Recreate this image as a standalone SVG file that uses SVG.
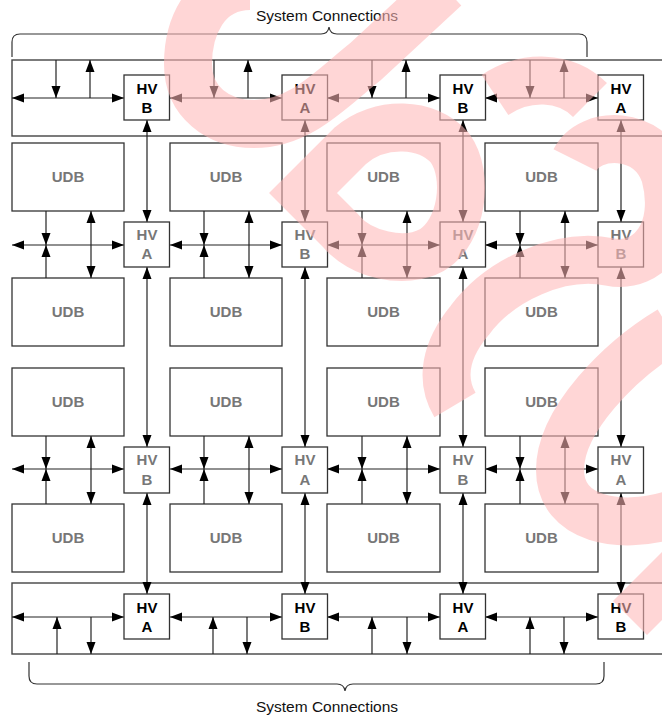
<svg xmlns="http://www.w3.org/2000/svg" width="662" height="715" viewBox="0 0 662 715">
<defs>
<style>
.cont{fill:none;stroke:#444;stroke-width:1.4}
.box{fill:#fff;stroke:#333;stroke-width:1.3}
.t{font-family:"Liberation Sans",Arial,sans-serif;font-weight:bold;font-size:15px;text-anchor:middle}
.k{fill:#000}
.g{fill:#777}
.lbl{font-family:"Liberation Sans",Arial,sans-serif;font-size:15.5px;text-anchor:middle;fill:#111}
.w{stroke:#222;stroke-width:1.2;fill:none}
.d{marker-start:url(#ah);marker-end:url(#ah)}
.e{marker-end:url(#ah)}
.brace{fill:none;stroke:#333;stroke-width:1.2}
.wm{fill:none;stroke:#ffb8b8;stroke-width:48;stroke-linejoin:miter;stroke-linecap:butt}
</style>
<marker id="ah" markerUnits="userSpaceOnUse" markerWidth="12" markerHeight="10" refX="12" refY="4.5" orient="auto-start-reverse" viewBox="0 0 12 9">
<path d="M0,0 L12,4.5 L0,9 z" fill="#000"/>
</marker>
</defs>
<rect width="662" height="715" fill="#fff"/>

<text class="lbl" x="327" y="21">System Connections</text>
<path class="brace" d="M12,57 L12,42 Q12,34 20,34 L321,34 Q328,34 329,27 Q330,34 337,34 L579,34 Q587,34 587,42 L587,57"/>
<text class="lbl" x="327" y="712">System Connections</text>
<path class="brace" d="M29,662 L29,676 Q29,684 37,684 L337,684 Q344,684 345,691 Q346,684 353,684 L596,684 Q604,684 604,676 L604,662"/>

<g id="top-bus"><rect class="cont" x="12" y="60" width="670" height="76"/></g>
<g id="bottom-bus"><rect class="cont" x="12" y="583" width="670" height="71"/></g>

<g id="udb-r1c1"><rect class="box" x="12" y="143" width="112" height="68"/><text class="t g" x="68" y="182">UDB</text></g>
<g id="udb-r1c2"><rect class="box" x="170" y="143" width="112" height="68"/><text class="t g" x="226" y="182">UDB</text></g>
<g id="udb-r1c3"><rect class="box" x="327" y="143" width="113" height="68"/><text class="t g" x="383.5" y="182">UDB</text></g>
<g id="udb-r1c4"><rect class="box" x="485" y="143" width="113" height="68"/><text class="t g" x="541.5" y="182">UDB</text></g>
<g id="udb-r2c1"><rect class="box" x="12" y="278" width="112" height="68"/><text class="t g" x="68" y="317">UDB</text></g>
<g id="udb-r2c2"><rect class="box" x="170" y="278" width="112" height="68"/><text class="t g" x="226" y="317">UDB</text></g>
<g id="udb-r2c3"><rect class="box" x="327" y="278" width="113" height="68"/><text class="t g" x="383.5" y="317">UDB</text></g>
<g id="udb-r2c4"><rect class="box" x="485" y="278" width="113" height="68"/><text class="t g" x="541.5" y="317">UDB</text></g>
<g id="udb-r3c1"><rect class="box" x="12" y="368" width="112" height="68"/><text class="t g" x="68" y="407">UDB</text></g>
<g id="udb-r3c2"><rect class="box" x="170" y="368" width="112" height="68"/><text class="t g" x="226" y="407">UDB</text></g>
<g id="udb-r3c3"><rect class="box" x="327" y="368" width="113" height="68"/><text class="t g" x="383.5" y="407">UDB</text></g>
<g id="udb-r3c4"><rect class="box" x="485" y="368" width="113" height="68"/><text class="t g" x="541.5" y="407">UDB</text></g>
<g id="udb-r4c1"><rect class="box" x="12" y="504" width="112" height="68"/><text class="t g" x="68" y="543">UDB</text></g>
<g id="udb-r4c2"><rect class="box" x="170" y="504" width="112" height="68"/><text class="t g" x="226" y="543">UDB</text></g>
<g id="udb-r4c3"><rect class="box" x="327" y="504" width="113" height="68"/><text class="t g" x="383.5" y="543">UDB</text></g>
<g id="udb-r4c4"><rect class="box" x="485" y="504" width="113" height="68"/><text class="t g" x="541.5" y="543">UDB</text></g>

<g id="connectors">
<path class="w d" d="M12,98 H124"/><path class="w d" d="M170,98 H282"/><path class="w d" d="M327,98 H440"/><path class="w d" d="M485,98 H598"/>
<path class="w e" d="M56,60 V98"/><path class="w e" d="M214,60 V98"/><path class="w e" d="M372,60 V98"/><path class="w e" d="M530,60 V98"/>
<path class="w e" d="M90,98 V60"/><path class="w e" d="M248,98 V60"/><path class="w e" d="M406,98 V60"/><path class="w e" d="M564,98 V60"/>

<path class="w d" d="M12,245 H124"/><path class="w d" d="M170,245 H282"/><path class="w d" d="M327,245 H440"/><path class="w d" d="M485,245 H598"/>
<path class="w e" d="M46,211 V245"/><path class="w e" d="M204,211 V245"/><path class="w e" d="M362,211 V245"/><path class="w e" d="M520,211 V245"/>
<path class="w e" d="M46,278 V245"/><path class="w e" d="M204,278 V245"/><path class="w e" d="M362,278 V245"/><path class="w e" d="M520,278 V245"/>
<path class="w d" d="M91,211 V278"/><path class="w d" d="M249,211 V278"/><path class="w d" d="M407,211 V278"/><path class="w d" d="M565,211 V278"/>

<path class="w d" d="M12,469 H124"/><path class="w d" d="M170,469 H282"/><path class="w d" d="M327,469 H440"/><path class="w d" d="M485,469 H598"/>
<path class="w e" d="M46,436 V469"/><path class="w e" d="M204,436 V469"/><path class="w e" d="M362,436 V469"/><path class="w e" d="M520,436 V469"/>
<path class="w e" d="M46,504 V469"/><path class="w e" d="M204,504 V469"/><path class="w e" d="M362,504 V469"/><path class="w e" d="M520,504 V469"/>
<path class="w d" d="M91,436 V504"/><path class="w d" d="M249,436 V504"/><path class="w d" d="M407,436 V504"/><path class="w d" d="M565,436 V504"/>

<path class="w d" d="M12,617 H124"/><path class="w d" d="M170,617 H282"/><path class="w d" d="M327,617 H440"/><path class="w d" d="M485,617 H598"/>
<path class="w e" d="M57,654 V617"/><path class="w e" d="M213,654 V617"/><path class="w e" d="M372,654 V617"/><path class="w e" d="M530,654 V617"/>
<path class="w e" d="M91,617 V654"/><path class="w e" d="M247,617 V654"/><path class="w e" d="M407,617 V654"/><path class="w e" d="M564,617 V654"/>

<path class="w d" d="M147,120 V222"/><path class="w d" d="M305,120 V222"/><path class="w d" d="M463,120 V222"/><path class="w d" d="M621,120 V222"/>
<path class="w d" d="M147,267 V447"/><path class="w d" d="M305,267 V447"/><path class="w d" d="M463,267 V447"/><path class="w d" d="M621,267 V447"/>
<path class="w d" d="M147,493 V594"/><path class="w d" d="M305,493 V594"/><path class="w d" d="M463,493 V594"/><path class="w d" d="M621,493 V594"/>
</g>

<g id="hv-r1c1"><rect class="box" x="124" y="75" width="45.5" height="45"/><text class="t k" x="147" y="94">HV</text><text class="t k" x="147" y="113">B</text></g>
<g id="hv-r1c2"><rect class="box" x="282" y="75" width="45.5" height="45"/><text class="t k" x="305" y="94">HV</text><text class="t k" x="305" y="113">A</text></g>
<g id="hv-r1c3"><rect class="box" x="440" y="75" width="45.5" height="45"/><text class="t k" x="463" y="94">HV</text><text class="t k" x="463" y="113">B</text></g>
<g id="hv-r1c4"><rect class="box" x="598" y="75" width="45.5" height="45"/><text class="t k" x="621" y="94">HV</text><text class="t k" x="621" y="113">A</text></g>
<g id="hv-r2c1"><rect class="box" x="124" y="222" width="45.5" height="45"/><text class="t g" x="147" y="240">HV</text><text class="t g" x="147" y="259">A</text></g>
<g id="hv-r2c2"><rect class="box" x="282" y="222" width="45.5" height="45"/><text class="t g" x="305" y="240">HV</text><text class="t g" x="305" y="259">B</text></g>
<g id="hv-r2c3"><rect class="box" x="440" y="222" width="45.5" height="45"/><text class="t g" x="463" y="240">HV</text><text class="t g" x="463" y="259">A</text></g>
<g id="hv-r2c4"><rect class="box" x="598" y="222" width="45.5" height="45"/><text class="t g" x="621" y="240">HV</text><text class="t g" x="621" y="259">B</text></g>
<g id="hv-r3c1"><rect class="box" x="124" y="447" width="45.5" height="46"/><text class="t g" x="147" y="465">HV</text><text class="t g" x="147" y="485">B</text></g>
<g id="hv-r3c2"><rect class="box" x="282" y="447" width="45.5" height="46"/><text class="t g" x="305" y="465">HV</text><text class="t g" x="305" y="485">A</text></g>
<g id="hv-r3c3"><rect class="box" x="440" y="447" width="45.5" height="46"/><text class="t g" x="463" y="465">HV</text><text class="t g" x="463" y="485">B</text></g>
<g id="hv-r3c4"><rect class="box" x="598" y="447" width="45.5" height="46"/><text class="t g" x="621" y="465">HV</text><text class="t g" x="621" y="485">A</text></g>
<g id="hv-r4c1"><rect class="box" x="124" y="594" width="45.5" height="45"/><text class="t k" x="147" y="613">HV</text><text class="t k" x="147" y="632">A</text></g>
<g id="hv-r4c2"><rect class="box" x="282" y="594" width="45.5" height="45"/><text class="t k" x="305" y="613">HV</text><text class="t k" x="305" y="632">B</text></g>
<g id="hv-r4c3"><rect class="box" x="440" y="594" width="45.5" height="45"/><text class="t k" x="463" y="613">HV</text><text class="t k" x="463" y="632">A</text></g>
<g id="hv-r4c4"><rect class="box" x="598" y="594" width="45.5" height="45"/><text class="t k" x="621" y="613">HV</text><text class="t k" x="621" y="632">B</text></g>

<g id="watermark" opacity="0.57">
<path class="wm" d="M250,-14 C205,-14 188,28 188,64 C188,102 218,124 254,124 C300,124 330,90 365,62 L445,-12"/>
<path class="wm" d="M303,193 L350,146 C380,120 428,122 450,148 C470,176 462,232 432,250 C405,265 360,255 340,230 Z"/>
<path class="wm" d="M495,95 C525,75 565,75 590,100 M575,160 C590,130 650,130 665,175 C680,230 650,270 610,262 C560,252 500,280 470,320 C445,350 440,380 455,405"/>
<path class="wm" d="M670,330 C620,360 560,420 560,470 C560,520 620,530 670,515"/>
<path class="wm" d="M630,618 L680,568"/>
</g>
</svg>
